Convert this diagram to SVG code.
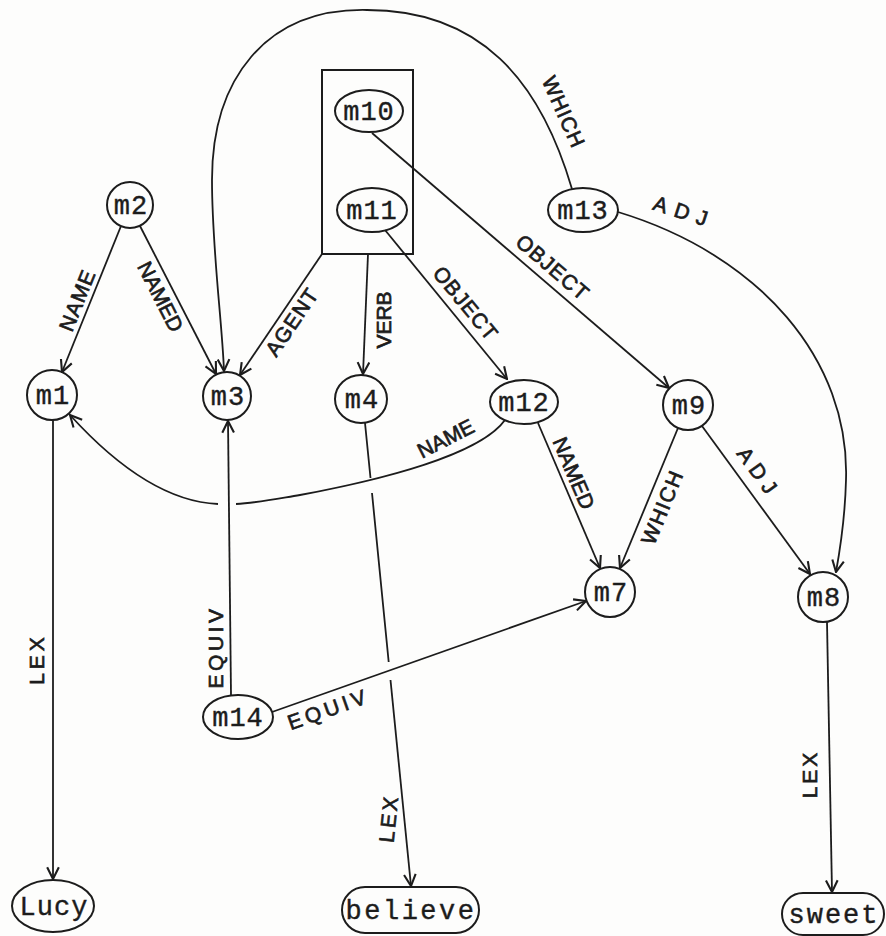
<svg xmlns="http://www.w3.org/2000/svg" width="886" height="936" viewBox="0 0 886 936">
<defs>
<marker id="arr" viewBox="0 0 12 12" refX="11" refY="6" markerWidth="14" markerHeight="14" markerUnits="userSpaceOnUse" orient="auto">
<path d="M1,1 L11,6 L1,11" fill="none" stroke="#1c1c1c" stroke-width="1.8"/>
</marker>
<style>
.n{fill:none;stroke:#1c1c1c;stroke-width:2}
.t{font-family:"Liberation Mono","DejaVu Sans Mono",monospace;font-size:27px;fill:#1c1c1c;stroke:#1c1c1c;stroke-width:0.4;text-anchor:middle;letter-spacing:1px}
.e{fill:none;stroke:#1c1c1c;stroke-width:1.8}
.a{marker-end:url(#arr)}
.l{font-family:"Liberation Sans","DejaVu Sans",sans-serif;font-size:21px;fill:#1c1c1c;stroke:#1c1c1c;stroke-width:0.7;text-anchor:middle;letter-spacing:1px}
</style>
</defs>
<rect width="886" height="936" fill="#fdfdfc"/>

<g id="edges">
<!-- m2 -> m1 NAME -->
<path class="e a" d="M121,226 L62,372"/>
<text class="l" transform="translate(84,303) rotate(-68)">NAME</text>
<!-- m2 -> m3 NAMED -->
<path class="e a" d="M140,226 L216,374"/>
<text class="l" transform="translate(154,300) rotate(63)" style="letter-spacing:0">NAMED</text>
<!-- box -> m3 AGENT -->
<path class="e a" d="M322,254 L240,375"/>
<text class="l" transform="translate(298,326) rotate(-56)">AGENT</text>
<!-- box -> m4 VERB -->
<path class="e a" d="M368,254 L363,374"/>
<text class="l" transform="translate(391,320) rotate(-90)" style="letter-spacing:0">VERB</text>
<!-- m11 -> m12 OBJECT -->
<path class="e a" d="M385,230 L507,379"/>
<text class="l" transform="translate(460,308) rotate(50.6)">OBJECT</text>
<!-- m10 -> m9 OBJECT -->
<path class="e a" d="M372,133 L669,388"/>
<text class="l" transform="translate(548,273) rotate(40.7)">OBJECT</text>
<!-- m13 -> m3 WHICH -->
<path class="e a" d="M572,189 C540,80 480,10 367,10 C265,8 212,80 212,180 C212,250 222,320 224,371"/>
<text class="l" transform="translate(557,115) rotate(66)">WHICH</text>
<!-- m13 -> m8 ADJ -->
<path class="e a" d="M618,212 C760,255 850,360 846,480 C845,520 840,550 836,572"/>
<text class="l" transform="translate(682,219) rotate(18)" style="letter-spacing:8px">ADJ</text>
<!-- m12 -> m1 NAME -->
<path class="e" d="M505,420 C480,455 380,480 300,495 C270,500 255,503 236,504"/>
<path class="e a" d="M218,504 C170,502 120,470 70,415"/>
<text class="l" transform="translate(449,445) rotate(-27)" style="letter-spacing:0">NAME</text>
<!-- m12 -> m7 NAMED -->
<path class="e a" d="M538,423 L600,568"/>
<text class="l" transform="translate(567,476) rotate(67)" style="letter-spacing:0">NAMED</text>
<!-- m9 -> m7 WHICH -->
<path class="e a" d="M678,428 L620,568"/>
<text class="l" transform="translate(669,510) rotate(-67.6)" style="letter-spacing:1.5px">WHICH</text>
<!-- m9 -> m8 ADJ -->
<path class="e a" d="M702,426 L810,574"/>
<text class="l" transform="translate(753,477) rotate(54)" style="letter-spacing:6px">ADJ</text>
<!-- m1 -> Lucy LEX -->
<path class="e a" d="M53,420 L53,879"/>
<text class="l" transform="translate(44,659) rotate(-90)" style="letter-spacing:4px">LEX</text>
<!-- m14 -> m3 EQUIV -->
<path class="e a" d="M231,695 L228,421"/>
<text class="l" transform="translate(223,647) rotate(-90)" style="letter-spacing:3.5px">EQUIV</text>
<!-- m14 -> m7 EQUIV -->
<path class="e a" d="M272,712 L586,601"/>
<text class="l" transform="translate(331,716) rotate(-19.5)" style="letter-spacing:4px">EQUIV</text>
<!-- m4 -> believe LEX -->
<path class="e" d="M365,423 L370.5,478 M372,493 L388.7,662"/>
<path class="e a" d="M390.5,680 L411,886"/>
<text class="l" transform="translate(396,819) rotate(-84)" style="letter-spacing:3px">LEX</text>
<!-- m8 -> sweet LEX -->
<path class="e a" d="M827,622 L832,892"/>
<text class="l" transform="translate(817,774) rotate(-90)" style="letter-spacing:3px">LEX</text>
</g>

<g id="box"><rect class="n" x="322" y="70" width="91" height="184"/></g>
<g id="m10"><ellipse class="n" cx="369" cy="111" rx="34" ry="21"/><text class="t" x="369" y="120">m10</text></g>
<g id="m11"><ellipse class="n" cx="372" cy="210" rx="35" ry="22"/><text class="t" x="372" y="219">m11</text></g>
<g id="m2"><circle class="n" cx="130" cy="205" r="23"/><text class="t" x="131" y="214">m2</text></g>
<g id="m13"><ellipse class="n" cx="583" cy="210" rx="35" ry="22"/><text class="t" x="583" y="219">m13</text></g>
<g id="m1"><circle class="n" cx="52" cy="395" r="25"/><text class="t" x="53" y="404">m1</text></g>
<g id="m3"><circle class="n" cx="227" cy="396" r="24"/><text class="t" x="228" y="405">m3</text></g>
<g id="m4"><ellipse class="n" cx="361" cy="399" rx="26" ry="24"/><text class="t" x="362" y="408">m4</text></g>
<g id="m12"><ellipse class="n" cx="524" cy="402" rx="34" ry="22"/><text class="t" x="524" y="411">m12</text></g>
<g id="m9"><circle class="n" cx="688" cy="405" r="25"/><text class="t" x="689" y="414">m9</text></g>
<g id="m7"><circle class="n" cx="610" cy="592" r="25"/><text class="t" x="611" y="601">m7</text></g>
<g id="m8"><circle class="n" cx="823" cy="597" r="25"/><text class="t" x="824" y="606">m8</text></g>
<g id="m14"><ellipse class="n" cx="238" cy="717" rx="35" ry="22"/><text class="t" x="238" y="726">m14</text></g>
<g id="Lucy"><ellipse class="n" cx="53" cy="906" rx="41" ry="26"/><text class="t" x="54" y="915">Lucy</text></g>
<g id="believe"><rect class="n" x="342" y="887" width="137" height="46" rx="23"/><text class="t" x="411" y="919" style="letter-spacing:2.5px">believe</text></g>
<g id="sweet"><rect class="n" x="782" y="893" width="102" height="42" rx="21"/><text class="t" x="834" y="923" style="letter-spacing:2px">sweet</text></g>
</svg>
